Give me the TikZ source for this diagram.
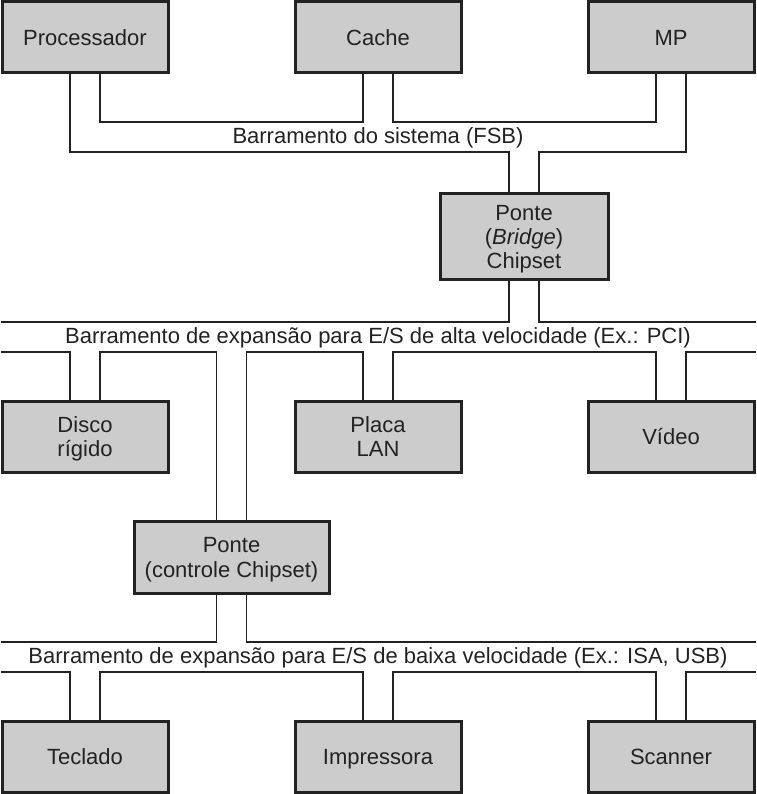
\documentclass[tikz,border=0pt]{standalone}
\usepackage{fontspec}
\setmainfont{Liberation Sans}
\definecolor{boxfill}{HTML}{CCCCCC}
\definecolor{ink}{HTML}{222222}
\begin{document}
\begin{tikzpicture}[x=1pt,y=-1pt,
  unit/.style={draw=ink, line width=3pt, fill=boxfill, rectangle, inner sep=0pt, outer sep=0pt,
    minimum width=166pt, minimum height=71pt, align=center, text=ink,
    text height=16pt, text depth=0pt,
    font=\fontsize{22}{24}\selectfont},
  two/.style={text height=40pt},
  three/.style={text height=64pt},
  bus/.style={draw=ink, line width=1.9pt, line cap=rect},
  buslabel/.style={text=ink, font=\fontsize{22}{24}\selectfont, inner sep=0pt, anchor=base}]
\useasboundingbox (0,0) rectangle (756,794);

% boxes
\node[unit] (proc)  at (85,37.5)  {Processador};
\node[unit] (cache) at (378,37.5) {Cache};
\node[unit] (mp)    at (671,37.5) {MP};
\node[unit, three, minimum width=168pt, minimum height=85pt] (bridge) at (524,236.5) {Ponte\\(\textit{Bridge})\\Chipset};
\node[unit, two] (disco) at (85,436.5)  {Disco\\rígido};
\node[unit, two] (lan)   at (378,436.5) {Placa\\LAN};
\node[unit] (video) at (671,436.5) {Vídeo};
\node[unit, minimum width=195pt, minimum height=72pt, font=\fontsize{22}{25}\selectfont, text height=41pt] (ponte) at (231.5,557) {Ponte\\(controle Chipset)};
\node[unit] (tec)   at (85,756.5)  {Teclado};
\node[unit] (imp)   at (378,756.5) {Impressora};
\node[unit] (scan)  at (671,756.5) {Scanner};

% free ends of the buses
\coordinate (pciL)  at (2,322);
\coordinate (pciR)  at (755,322);
\coordinate (pciLL) at (2,352);
\coordinate (pciRR) at (755,352);
\coordinate (isaL)  at (2,642);
\coordinate (isaR)  at (755,642);
\coordinate (isaLL) at (2,672);
\coordinate (isaRR) at (755,672);

% system bus (FSB)
\draw[bus] ([xshift=15]proc.south) -- ++(0,49) -| ([xshift=-15]cache.south);
\draw[bus] ([xshift=15]cache.south) -- ++(0,49) -| ([xshift=-15]mp.south);
\draw[bus] ([xshift=-15]proc.south) -- ++(0,79) -| ([xshift=-15]bridge.north);
\draw[bus] ([xshift=15]mp.south) -- ++(0,79) -| ([xshift=15]bridge.north);
\node[buslabel] (fsb) at (378,144) {Barramento do sistema (FSB)};

% high speed bus (PCI)
\draw[bus] ([xshift=-15]bridge.south) -- ++(0,43) -- (pciL);
\draw[bus] ([xshift=15]bridge.south) -- ++(0,43) -- (pciR);
\draw[bus] (pciLL) -| ([xshift=-15]disco.north);
\draw[bus] ([xshift=15]disco.north) -- ++(0,-49) -| ([xshift=-15]ponte.north);
\draw[bus] ([xshift=15]ponte.north) -- ++(0,-169) -| ([xshift=-15]lan.north);
\draw[bus] ([xshift=15]lan.north) -- ++(0,-49) -| ([xshift=-15]video.north);
\draw[bus] ([xshift=15]video.north) -- ++(0,-49) -- (pciRR);
\node[buslabel] (pci) at (378,343) {Barramento de expansão para E/S de alta velocidade (Ex.: PCI)};

% low speed bus (ISA, USB)
\draw[bus] ([xshift=-15]ponte.south) -- ++(0,49) -- (isaL);
\draw[bus] ([xshift=15]ponte.south) -- ++(0,49) -- (isaR);
\draw[bus] (isaLL) -| ([xshift=-15]tec.north);
\draw[bus] ([xshift=15]tec.north) -- ++(0,-49) -| ([xshift=-15]imp.north);
\draw[bus] ([xshift=15]imp.north) -- ++(0,-49) -| ([xshift=-15]scan.north);
\draw[bus] ([xshift=15]scan.north) -- ++(0,-49) -- (isaRR);
\node[buslabel] (isa) at (378,663) {Barramento de expansão para E/S de baixa velocidade (Ex.: ISA, USB)};
\end{tikzpicture}
\end{document}
